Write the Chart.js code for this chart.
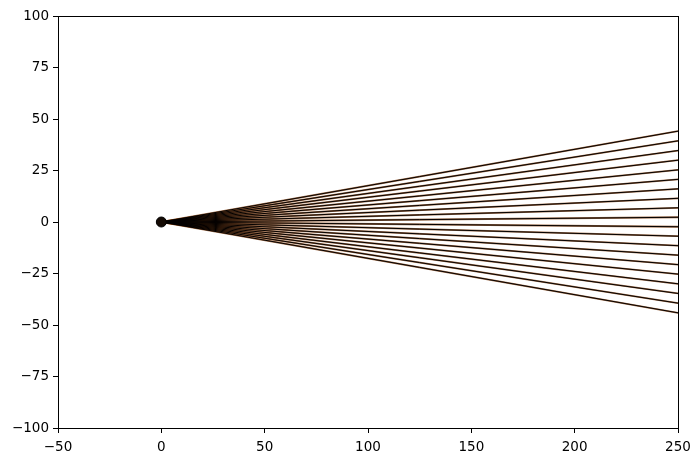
<!DOCTYPE html>
<html>
<head>
<meta charset="utf-8">
<script src="https://cdn.jsdelivr.net/npm/chart.js@4/dist/chart.umd.min.js"></script>
<style>
  html, body { margin: 0; padding: 0; background: #fff; }
  #chart { display: block; }
</style>
</head>
<body>
<canvas id="chart" width="700" height="462"></canvas>
<script>
// all rays leave from the source point and stop at the right edge
var sourcePoint = { x: 0, y: 0 };
var rayEndX = 250;
// y value of each ray where it meets x = 250
var rayEndY = [44.1, 39.4, 34.7, 30.0, 25.3, 20.7, 16.1, 11.5, 6.9, 2.3,
  -2.3, -6.9, -11.5, -16.1, -20.7, -25.3, -30.0, -34.7, -39.4, -44.1];

var xTicks = [-50, 0, 50, 100, 150, 200, 250];
var yTicks = [-100, -75, -50, -25, 0, 25, 50, 75, 100];

// Build one line dataset per ray: brown halo first, black core on top
var datasets = [];
rayEndY.forEach(function (endY) {
  datasets.push({
    data: [{ x: sourcePoint.x, y: sourcePoint.y }, { x: rayEndX, y: endY }],
    showLine: true,
    borderColor: 'rgba(125, 58, 10, 0.75)',
    borderWidth: 1.8,
    pointRadius: 0,
    order: 3
  });
});
rayEndY.forEach(function (endY) {
  datasets.push({
    data: [{ x: sourcePoint.x, y: sourcePoint.y }, { x: rayEndX, y: endY }],
    showLine: true,
    borderColor: '#050200',
    borderWidth: 1,
    pointRadius: 0,
    order: 2
  });
});
// the source dot
datasets.push({
  data: [sourcePoint],
  pointRadius: 5,
  pointBackgroundColor: '#140a04',
  pointBorderColor: '#000',
  pointBorderWidth: 1,
  order: 1
});

// matplotlib style box around the plot area
var frame = {
  id: 'frame',
  afterDatasetsDraw: function (chart) {
    var a = chart.chartArea, ctx = chart.ctx;
    ctx.save();
    ctx.strokeStyle = '#000';
    ctx.lineWidth = 1;
    ctx.strokeRect(Math.round(a.left) + 0.5, Math.round(a.top) + 0.5,
      Math.round(a.right - a.left), Math.round(a.bottom - a.top));
    ctx.restore();
  }
};

function minusSign(v) {
  return String(v).replace('-', '\u2212');
}

var tickFont = { family: 'DejaVu Sans', size: 13.5 };

new Chart(document.getElementById('chart'), {
  type: 'scatter',
  data: { datasets: datasets },
  options: {
    responsive: false,
    animation: false,
    events: [],
    layout: { padding: { left: 0, top: 16, right: 22, bottom: 0 } },
    plugins: { legend: { display: false }, tooltip: { enabled: false } },
    scales: {
      x: {
        type: 'linear',
        min: xTicks[0],
        max: xTicks[xTicks.length - 1],
        afterBuildTicks: function (scale) {
          scale.ticks = xTicks.map(function (v) { return { value: v }; });
        },
        afterFit: function (scale) { scale.height = 34; },
        grid: { display: true, drawOnChartArea: false, tickLength: 5, tickColor: '#000' },
        border: { display: false },
        ticks: { color: '#000', font: tickFont, padding: 6, maxRotation: 0, callback: minusSign }
      },
      y: {
        type: 'linear',
        min: yTicks[0],
        max: yTicks[yTicks.length - 1],
        afterBuildTicks: function (scale) {
          scale.ticks = yTicks.map(function (v) { return { value: v }; });
        },
        afterFit: function (scale) { scale.width = 58; },
        grid: { display: true, drawOnChartArea: false, tickLength: 5, tickColor: '#000' },
        border: { display: false },
        ticks: { color: '#000', font: tickFont, padding: 4, callback: minusSign }
      }
    }
  },
  plugins: [frame]
});
</script>
</body>
</html>
